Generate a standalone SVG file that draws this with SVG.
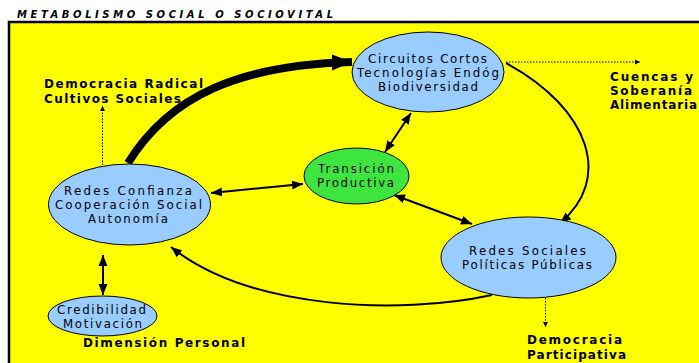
<svg xmlns="http://www.w3.org/2000/svg" width="699" height="363" viewBox="0 0 699 363">
<defs>
<marker id="ah" markerUnits="userSpaceOnUse" markerWidth="12" markerHeight="10" refX="11" refY="5" orient="auto-start-reverse"><path d="M0,0.5 L11,5 L0,9.5 Z" fill="#000"/></marker>
<marker id="ahBig" markerUnits="userSpaceOnUse" markerWidth="22" markerHeight="18" refX="20" refY="9" orient="auto"><path d="M0,1 L20,9 L0,17 Z" fill="#000"/></marker>
<marker id="ahSmall" markerUnits="userSpaceOnUse" markerWidth="6" markerHeight="6" refX="5" refY="3" orient="auto"><path d="M0,0.5 L5,3 L0,5.5 Z" fill="#000"/></marker>
</defs>
<style>
.node{stroke:#000;stroke-width:1}
.blue{fill:#99CCFF}
.green{fill:#3FE53F}
.nt{font-family:"DejaVu Sans","Liberation Sans",sans-serif;font-size:11.8px;fill:#000;text-anchor:middle}
.lb{font-family:"DejaVu Sans","Liberation Sans",sans-serif;font-size:12px;font-weight:bold;fill:#000}
.ln{fill:none;stroke:#000;stroke-width:2}
.dot{fill:none;stroke:#000;stroke-width:1;stroke-dasharray:1.5 1.5}
</style>
<rect x="0" y="0" width="699" height="363" fill="#fff"/>
<text x="17" y="18" font-family="'DejaVu Sans','Liberation Sans',sans-serif" font-size="10" font-weight="bold" font-style="italic" textLength="316" lengthAdjust="spacing">METABOLISMO SOCIAL O SOCIOVITAL</text>
<rect x="9" y="22" width="720" height="360" fill="#FFFF00" stroke="#000" stroke-width="2.5"/>

<g id="connectors">
<path d="M128,163 C170,95 240,65 352,62" fill="none" stroke="#000" stroke-width="8" marker-end="url(#ahBig)"/>
<path class="ln" d="M506,63 C592,110 612,180 560,223" marker-end="url(#ah)"/>
<path class="ln" d="M492,295 C400,315 250,310 171,247" marker-end="url(#ah)"/>
<line class="ln" x1="411" y1="113" x2="385" y2="152" marker-start="url(#ah)" marker-end="url(#ah)"/>
<line class="ln" x1="211" y1="193" x2="303" y2="184" marker-start="url(#ah)" marker-end="url(#ah)"/>
<line class="ln" x1="394" y1="195" x2="472" y2="224" marker-start="url(#ah)" marker-end="url(#ah)"/>
<line class="ln" x1="103" y1="255" x2="103" y2="295" marker-start="url(#ah)" marker-end="url(#ah)"/>
<line class="dot" x1="506" y1="62" x2="640" y2="62" marker-end="url(#ahSmall)"/>
<line class="dot" x1="545.5" y1="298" x2="545.5" y2="327" marker-end="url(#ahSmall)"/>
<line class="dot" x1="102.5" y1="165" x2="102.5" y2="106" marker-end="url(#ahSmall)"/>
</g>

<g id="node-circuitos">
<ellipse class="node blue" cx="428" cy="72" rx="76" ry="40"/>
<text class="nt" x="427.5" y="63" textLength="119" lengthAdjust="spacing">Circuitos Cortos</text>
<text class="nt" x="428" y="77" textLength="142" lengthAdjust="spacing">Tecnologías Endóg</text>
<text class="nt" x="428" y="91" textLength="100" lengthAdjust="spacing">Biodiversidad</text>
</g>

<g id="node-redes-confianza">
<ellipse class="node blue" cx="129.5" cy="204.5" rx="81" ry="40.5"/>
<text class="nt" x="128" y="195" textLength="128" lengthAdjust="spacing">Redes Confianza</text>
<text class="nt" x="128.5" y="209" textLength="147" lengthAdjust="spacing">Cooperación Social</text>
<text class="nt" x="128" y="223" textLength="80" lengthAdjust="spacing">Autonomía</text>
</g>

<g id="node-transicion">
<ellipse class="node green" cx="356.5" cy="176" rx="52.5" ry="28"/>
<text class="nt" x="356" y="173" textLength="76" lengthAdjust="spacing">Transición</text>
<text class="nt" x="355.5" y="187" textLength="77" lengthAdjust="spacing">Productiva</text>
</g>

<g id="node-redes-sociales">
<ellipse class="node blue" cx="528.5" cy="257.5" rx="87.5" ry="40.5"/>
<text class="nt" x="527.5" y="255" textLength="117" lengthAdjust="spacing">Redes Sociales</text>
<text class="nt" x="527" y="269" textLength="130" lengthAdjust="spacing">Políticas Públicas</text>
</g>

<g id="node-credibilidad">
<ellipse class="node blue" cx="102.5" cy="316" rx="54.5" ry="20"/>
<text class="nt" x="101.5" y="314" textLength="89" lengthAdjust="spacing">Credibilidad</text>
<text class="nt" x="102.5" y="328" textLength="79" lengthAdjust="spacing">Motivación</text>
</g>

<g id="labels">
<text class="lb" x="44" y="88" textLength="159" lengthAdjust="spacing">Democracia Radical</text>
<text class="lb" x="44" y="103" textLength="137" lengthAdjust="spacing">Cultivos Sociales</text>
<text class="lb" x="610" y="81" textLength="83" lengthAdjust="spacing">Cuencas y</text>
<text class="lb" x="610" y="95" textLength="82" lengthAdjust="spacing">Soberanía</text>
<text class="lb" x="610" y="109" textLength="87" lengthAdjust="spacing">Alimentaria</text>
<text class="lb" x="527" y="344" textLength="95" lengthAdjust="spacing">Democracia</text>
<text class="lb" x="527" y="359" textLength="99" lengthAdjust="spacing">Participativa</text>
<text class="lb" x="83" y="347" textLength="162" lengthAdjust="spacing">Dimensión Personal</text>
</g>
</svg>
